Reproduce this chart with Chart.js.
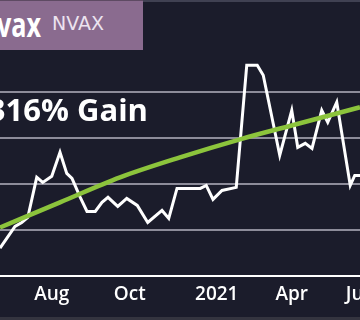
<!DOCTYPE html>
<html>
<head>
<meta charset="utf-8">
<script src="https://cdn.jsdelivr.net/npm/chart.js@4/dist/chart.umd.min.js"></script>
<style>
  html, body { margin: 0; padding: 0; }
  body { width: 360px; height: 320px; overflow: hidden; position: relative; background: #1b1c2b; }
  #chart { position: absolute; left: -40px; top: 0; }
  .topline { position: absolute; left: 0; top: 0; width: 360px; height: 2px; background: #404152; }
  .bottomband { position: absolute; left: 0; top: 317px; width: 360px; height: 3px; background: #34343f; }
  .titlebox { position: absolute; left: 0; top: 0; width: 143px; height: 50px; background: #8a6b8f; border-top: 1px solid #5e4a63; box-sizing: border-box; }
  .name { position: absolute; right: 319px; top: 1px; font: 700 34px "Open Sans", sans-serif; color: #fff; white-space: nowrap; transform: scaleX(0.74); transform-origin: right center; }
  .ticker { position: absolute; left: 52px; top: 12px; font: 400 19px "DejaVu Sans", sans-serif; color: #ece3ef; }
  .gain { position: absolute; right: 212px; top: 88px; font: 700 31px "Open Sans", sans-serif; color: #fff; white-space: nowrap; }
</style>
</head>
<body>
<div class="topline"></div>
<canvas id="chart" width="440" height="320"></canvas>
<div class="bottomband"></div>
<div class="titlebox"></div>
<div class="name">Novavax</div>
<div class="ticker">NVAX</div>
<div class="gain">316% Gain</div>
<script>
// price line, x in weeks from the start of the visible window
const weeks = [0, 2, 2.9, 3.7, 4.9, 5.7, 6.9, 8, 8.9, 9.6, 10.7, 11.6, 12.7, 13.6, 14.4, 15.7, 16.9, 18.3, 19.7, 21.6,
  22.5, 23.6, 26.7, 27.5, 28.4, 29.6, 31.5, 32.9, 34.3, 35.1, 37.3, 38.9, 39.7, 40.7, 41.6, 42.9, 43.7, 44.9, 46.7, 47.3, 48];
const prices = [80, 103.5, 107.8, 113.2, 156.5, 151, 157.6, 183.5, 160.8, 155.4, 134.9, 119.7, 119.7, 129.5, 134.9, 125.1, 133.8, 126.2, 107.8, 120.8,
  112.2, 144.6, 144.6, 147.8, 132.7, 142.4, 145.7, 277.6, 277.6, 266.8, 180.3, 228.9, 188.9, 193.2, 187.8, 228.9, 215.9, 237.6, 147.8, 158.6, 158.6];

// trend curve
const trendWeeks = [0, 8, 16, 24, 32, 40, 48];
const trendValues = [102.4, 129.5, 156.5, 178.1, 197.6, 214.9, 232.2];

// month labels
const tickWeeks = [6.9, 17.3, 28.9, 38.9, 48.1];
const tickLabels = ["Aug", "Oct", "2021", "Apr", "Jun"];

// white baseline along the bottom of the plot
const baseline = {
    id: "baseline",
    afterDatasetsDraw(chart) {
        const { ctx, chartArea, scales } = chart;
        const y = scales.y.getPixelForValue(scales.y.min);
        ctx.save();
        ctx.strokeStyle = "#ffffff";
        ctx.lineWidth = 2;
        ctx.beginPath();
        ctx.moveTo(chartArea.left, y);
        ctx.lineTo(chartArea.right, y);
        ctx.stroke();
        ctx.restore();
    },
};

const ctx = document.getElementById("chart").getContext("2d");
new Chart(ctx, {
    type: "line",
    data: {
        datasets: [
            {
                data: trendWeeks.map((w, i) => ({ x: w, y: trendValues[i] })),
                borderColor: "#8cc43c",
                borderWidth: 4.5,
                pointRadius: 0,
                cubicInterpolationMode: "monotone",
            },
            {
                data: weeks.map((w, i) => ({ x: w, y: prices[i] })),
                borderColor: "#ffffff",
                borderWidth: 3,
                pointRadius: 0,
                tension: 0,
                borderJoinStyle: "miter",
            },
        ],
    },
    plugins: [baseline],
    options: {
        responsive: false,
        animation: false,
        layout: { padding: 0 },
        plugins: { legend: { display: false }, tooltip: { enabled: false } },
        scales: {
            x: {
                type: "linear",
                min: -40 / 7.5,
                max: 400 / 7.5,
                grid: { color: "rgba(0,0,0,0)", drawTicks: false },
                border: { display: false },
                afterBuildTicks: (axis) => {
                    axis.ticks = tickWeeks.map((v) => ({ value: v }));
                },
                afterFit: (axis) => {
                    axis.height = 44;
                },
                ticks: {
                    autoSkip: false,
                    maxRotation: 0,
                    padding: 7,
                    color: "#ffffff",
                    font: { family: "Open Sans", size: 19, weight: "600" },
                    callback: (value, index) => tickLabels[index],
                },
            },
            y: {
                min: 50,
                max: 348,
                ticks: { display: false, stepSize: 50 },
                border: { display: false },
                grid: {
                    drawTicks: false,
                    lineWidth: 2,
                    color: (c) => (c.tick && c.tick.value > 50 && c.tick.value <= 250 ? "#8d8c9a" : "rgba(0,0,0,0)"),
                },
            },
        },
    },
});
</script>
</body>
</html>
